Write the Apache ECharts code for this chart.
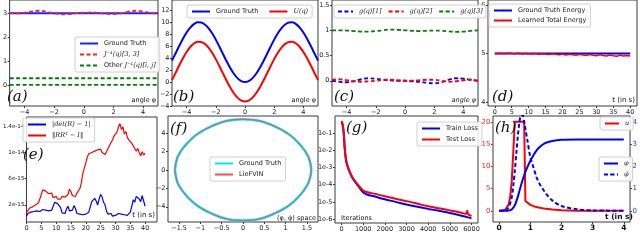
<!DOCTYPE html>
<html><head><meta charset="utf-8">
<script src="https://cdn.jsdelivr.net/npm/echarts@6/dist/echarts.min.js"></script>
<style>html,body{margin:0;padding:0;background:#fff}#c{width:640px;height:249px}</style>
</head><body><div id="c"></div>
<script>
// ---------- (a) inverse inertia ----------
const aPhi = [-5,-4.5,-4,-3.5,-3,-2.5,-2,-1.5,-1,-0.5,0,0.5,1,1.5,2,2.5,3,3.5,4,4.5,5];
const aGT  = [3,3,3,3,3,3,3,3,3,3,3,3,3,3,3,3,3,3,3,3,3];
const aJ33 = [3.0,2.99,3.02,3.07,3.1,3.06,2.99,2.95,2.96,3.0,3.02,3.03,3.01,2.97,2.96,2.99,3.06,3.1,3.07,3.01,2.98];
const aOtherHigh = [0.28,0.28,0.28,0.28,0.28,0.28,0.28,0.28,0.28,0.28,0.28,0.28,0.28,0.28,0.28,0.28,0.28,0.28,0.28,0.28,0.28];
const aOtherZero = [0,0,0,0,0,0,0,0,0,0,0,0,0,0,0,0,0,0,0,0,0];
const aXTicks = [-4,-2,0,2,4];
const aYTicks = [0,1,2,3];
// ---------- (b) potential ----------
const bPhi = [-5,-4.75,-4.5,-4.25,-4,-3.75,-3.5,-3.25,-3,-2.75,-2.5,-2.25,-2,-1.75,-1.5,-1.25,-1,-0.75,-0.5,-0.25,0,0.25,0.5,0.75,1,1.25,1.5,1.75,2,2.25,2.5,2.75,3,3.25,3.5,3.75,4,4.25,4.5,4.75,5];
const bGT = [3.58,4.81,6.05,7.23,8.27,9.10,9.68,9.97,9.95,9.62,9.01,8.14,7.08,5.89,4.65,3.42,2.30,1.34,0.61,0.16,0,0.16,0.61,1.34,2.30,3.42,4.65,5.89,7.08,8.14,9.01,9.62,9.95,9.97,9.68,9.10,8.27,7.23,6.05,4.81,3.58];
const bU  = [0.33,1.56,2.80,3.98,5.02,5.85,6.43,6.72,6.70,6.37,5.76,4.89,3.83,2.64,1.40,0.17,-0.95,-1.91,-2.64,-3.10,-3.25,-3.10,-2.64,-1.91,-0.95,0.17,1.40,2.64,3.83,4.89,5.76,6.37,6.70,6.72,6.43,5.85,5.02,3.98,2.80,1.56,0.33];
const bYTicks = [-4,-2,0,2,4,6,8,10,12];
// ---------- (c) input matrix ----------
const cPhi = [-5,-4.5,-4,-3.5,-3,-2.5,-2,-1.5,-1,-0.5,0,0.5,1,1.5,2,2.5,3,3.5,4,4.5,5];
const cG1 = [0.0,-0.02,-0.03,-0.01,0.03,0.05,0.04,0.02,0.01,0.0,0.0,-0.01,-0.02,-0.04,-0.05,-0.03,0.02,0.05,0.04,0.02,0.0];
const cG2 = [0.02,0.03,0.01,-0.01,-0.02,-0.01,0.0,0.02,0.02,0.01,0.0,0.0,0.01,0.02,0.02,0.0,-0.02,-0.01,0.01,0.02,-0.01];
const cG3 = [1.0,1.0,0.995,0.985,0.975,0.975,0.985,1.0,1.015,1.01,1.0,0.99,0.985,0.99,0.995,0.99,0.98,0.97,0.975,0.99,1.0];
const cYTicks = [0,0.5,1,1.5];
// ---------- (d) energy ----------
const dT = [0,1,2,3,4,5,6,7,8,9,10,11,12,13,14,15,16,17,18,19,20,21,22,23,24,25,26,27,28,29,30,31,32,33,34,35,36,37,38,39,40];
const dGT = [5,5,5,5,5,5,5,5,5,5,5,5,5,5,5,5,5,5,5,5,5,5,5,5,5,5,5,5,5,5,5,5,5,5,5,5,5,5,5,5,5];
const dLearned = [5.0,5.0,5.005,4.995,5.01,5.0,4.995,5.005,4.99,5.0,4.995,4.99,5.0,4.985,4.995,4.99,4.98,4.995,4.985,4.975,4.99,4.97,4.985,4.975,4.965,4.985,4.97,4.96,4.98,4.965,4.955,4.975,4.96,4.95,4.97,4.955,4.945,4.965,4.95,4.96,4.95];
const dXTicks = [0,5,10,15,20,25,30,35,40];
const dYTicks = [4,5,6];
// ---------- (e) SO(3) constraint errors (units of 1e-15) ----------
const eT = [0,0.5,1,1.5,2,2.5,3,3.5,4,4.5,5,5.5,6,6.5,7,7.5,8,8.5,9,9.5,10,10.5,11,11.5,12,12.5,13,13.5,14,14.5,15,15.5,16,16.5,17,17.5,18,18.5,19,19.5,20,20.5,21,21.5,22,22.5,23,23.5,24,24.5,25,25.5,26,26.5,27,27.5,28,28.5,29,29.5,30,30.5,31,31.5,32,32.5,33,33.5,34,34.5,35,35.5,36,36.5,37,37.5,38,38.5,39,39.5,40];
const eDet = [0.3,0.7,0.5,0.9,0.6,1.0,0.7,1.1,0.8,1.0,0.7,1.3,1.6,1.2,0.9,1.1,0.8,1.2,1.8,2.4,2.7,2.2,2.5,1.6,0.8,1.0,0.7,1.4,1.8,1.1,0.8,1.2,1.9,1.5,0.7,0.4,0.6,0.3,0.5,0.3,0.6,0.4,0.9,1.7,2.5,2.2,3.0,2.6,2.0,2.9,3.6,3.2,2.4,2.0,1.0,0.6,0.4,0.7,0.3,0.6,0.4,0.3,0.7,0.4,0.6,0.3,0.5,0.8,0.4,0.7,0.9,1.8,2.8,2.4,3.3,3.6,2.9,2.5,3.4,2.6,1.8];
const eOrth = [0.8,1.1,1.5,1.2,1.7,1.5,2.0,1.8,2.3,2.9,3.6,4.3,4.6,4.1,4.3,3.7,3.5,3.8,3.1,3.0,3.3,2.9,3.2,2.9,3.3,3.0,3.2,3.0,3.6,4.4,4.0,3.4,3.6,3.3,3.8,3.6,4.5,5.4,6.8,7.6,8.4,9.3,9.8,9.5,10.0,9.7,10.2,9.9,10.4,10.1,10.5,10.0,10.3,9.7,10.1,10.6,10.9,11.5,11.9,12.5,12.3,13.1,13.9,14.4,13.5,13.9,12.8,13.2,12.3,11.9,12.2,11.4,11.0,10.6,10.2,10.6,10.0,9.5,10.1,9.6,9.9];
const eXTicks = [0,5,10,15,20,25,30,35,40];
const eYTicks = [2,6,10,14];
const eYLabels = ['2e-15','6e-15','1e-14','1.4e-14'];
// ---------- (f) phase portrait ----------
const fPhi    = [-1.6,-1.55,-1.5,-1.4,-1.2,-1.0,-0.8,-0.6,-0.4,-0.2,0,0.2,0.4,0.6,0.8,1.0,1.2,1.4,1.5,1.55,1.6,1.55,1.5,1.4,1.2,1.0,0.8,0.6,0.4,0.2,0,-0.2,-0.4,-0.6,-0.8,-1.0,-1.2,-1.4,-1.5,-1.55,-1.6];
const fPhiDot = [0,1.2,1.7,2.4,3.4,4.1,4.6,5.0,5.3,5.45,5.5,5.45,5.3,5.0,4.6,4.1,3.4,2.4,1.7,1.2,0,-1.2,-1.7,-2.4,-3.4,-4.1,-4.6,-5.0,-5.3,-5.45,-5.5,-5.45,-5.3,-5.0,-4.6,-4.1,-3.4,-2.4,-1.7,-1.2,0];
const fXTicks = [-1.5,-1,-0.5,0,0.5,1,1.5];
const fYTicks = [-4,-2,0,2,4];
// ---------- (g) losses ----------
const gIter  = [0,50,100,150,200,250,400,550,800,1000,1200,1500,2000,2500,3000,3500,4000,4500,5000,5500,6000];
const gTrain = [0.45,0.3,0.1,0.012,3e-3,1.5e-3,4.5e-4,2e-4,7.5e-5,3.6e-5,2.6e-5,2.1e-5,1.4e-5,1e-5,7e-6,5.2e-6,3.9e-6,3e-6,2.25e-6,1.6e-6,1.1e-6];
const gTestIter = [0,50,100,150,200,250,400,550,800,1000,1200,1500,2000,2500,3000,3500,4000,4500,5000,5500,5750,5800,5850,6000];
const gTest  = [0.5,0.35,0.12,0.014,3.5e-3,1.7e-3,5e-4,2.2e-4,8.5e-5,4.6e-5,3.6e-5,3e-5,2.1e-5,1.5e-5,1.1e-5,7.8e-6,5.5e-6,4.2e-6,3.2e-6,2.4e-6,2.0e-6,3.0e-6,1.9e-6,1.5e-6];
const gXTicks = [0,1000,2000,3000,4000,5000,6000];
const gYTicks = [1e-6,1e-5,1e-4,1e-3,1e-2,1e-1];
// ---------- (h) swing-up control ----------
const hTu = [0,0.1,0.2,0.25,0.3,0.35,0.4,0.45,0.5,0.8,0.84,0.9,1.0,1.1,1.2,1.3,1.5,1.7,2.0,2.5,3.0,4.0];
const hU  = [0,0.05,0.3,0.7,1.4,3.0,6.5,13,20,20,2.2,1.8,1.35,1.05,0.85,0.7,0.45,0.3,0.15,0.05,0.02,0];
const hTphi = [0,0.2,0.3,0.4,0.5,0.6,0.7,0.8,0.9,1.0,1.1,1.2,1.3,1.4,1.5,1.7,2.0,2.5,3.0,4.0];
const hPhi  = [0,0,0.01,0.06,0.25,0.65,1.15,1.6,1.95,2.25,2.5,2.72,2.87,2.98,3.06,3.14,3.19,3.2,3.2,3.2];
const hTdot = [0,0.2,0.3,0.4,0.45,0.5,0.55,0.6,0.65,0.7,0.75,0.8,0.85,0.9,1.0,1.1,1.2,1.3,1.4,1.5,1.7,2.0,2.5,3.0,3.5,4.0];
const hPhiDot = [0,0.02,0.15,0.6,1.1,1.8,2.6,3.4,4.0,4.3,4.3,4.0,3.6,3.2,2.4,1.95,1.5,1.2,0.98,0.78,0.47,0.22,0.07,0.02,0.01,0];
const hXTicks = [0,1,2,3,4];
const hYLeftTicks = [0,5,10,15,20];
const hYRightTicks = [0,1,2,3,4];

// ---------- build ----------
const FONT = 'DejaVu Sans';
const pairs = (xs, ys) => xs.map((x, i) => [x, ys[i]]);
const num = v => String(+v.toFixed(6)).replace('-', '\u2212');
const FRAME = '#3a3a3a';
function grid(l, t, w, h) { return {left: l, top: t, width: w, height: h, show: true, borderColor: FRAME, borderWidth: 1, backgroundColor: 'transparent'}; }
function axis(g, min, max, ticks, o) {
  o = o || {};
  return {
    type: o.type || 'value', gridIndex: g, min: min, max: max, position: o.position,
    axisLine: {show: false, onZero: false}, splitLine: {show: false},
    axisTick: {show: true, length: 2, customValues: ticks, lineStyle: {color: o.tickColor || FRAME}},
    axisLabel: {customValues: ticks, fontSize: o.fontSize || 6.5, fontFamily: FONT, color: o.color || '#222',
      fontWeight: o.weight || 'normal', margin: o.margin || 2.5, formatter: o.formatter || num,
      showMinLabel: true, showMaxLabel: true}
  };
}
function line(name, g, yIdx, data, color, width, dash, extra) {
  return Object.assign({type: 'line', name: name, xAxisIndex: g, yAxisIndex: yIdx, data: data,
    symbol: 'none', showSymbol: false, smooth: false, animation: false,
    lineStyle: {color: color, width: width, type: dash ? [4, 2.5] : 'solid'}, itemStyle: {color: color}}, extra || {});
}
const LABELS = {
  a_gt: 'Ground Truth', a_j: '{m|J⁻¹(q)[3, 3]}', a_o: 'Other {m|J⁻¹(q)[i, j]}',
  b_gt: 'Ground Truth', b_u: '{m|U(q)}',
  c_1: '{m|g(q)[1]}', c_2: '{m|g(q)[2]}', c_3: '{m|g(q)[3]}',
  d_gt: 'Ground Truth Energy', d_l: 'Learned Total Energy',
  e_d: '{m||det(R) − 1|}', e_o: '{m|‖RRᵀ − I‖}',
  f_gt: 'Ground Truth', f_l: 'LieFVIN',
  g_tr: 'Train Loss', g_te: 'Test Loss',
  h_u: '{m|u}', h_p: '{m|φ}', h_d: '{m|φ̇}'
};
function legend(data, left, top, orient, o) {
  o = o || {};
  return {data: data, left: left, top: top, orient: orient || 'vertical',
    itemWidth: o.iw || 18, itemHeight: 2, itemGap: o.gap || 4,
    padding: o.pad || [3, 4, 3, 4], backgroundColor: 'rgba(255,255,255,0.85)', borderColor: '#d0d0d0', borderWidth: 1, borderRadius: 2,
    selectedMode: false, formatter: n => LABELS[n],
    textStyle: {fontSize: o.fs || 6.5, fontFamily: FONT, color: '#222', padding: [0, 0, 0, 1],
      rich: {m: {fontFamily: 'DejaVu Serif', fontStyle: 'italic', fontSize: o.fs || 6.5, color: '#222'}}}};
}
const option = {
  animation: false,
  backgroundColor: '#fff',
  grid: [grid(6, -1, 152, 107), grid(172, -1, 146, 107), grid(332, -1, 146, 107), grid(488, -1, 149, 107),
         grid(20, 117, 137, 105), grid(168, 116, 150, 106), grid(335, 116, 143, 107), grid(493, 116, 142, 106)],
  xAxis: [
    axis(0, -5, 5, aXTicks), axis(1, -5, 5, aXTicks), axis(2, -5, 5, aXTicks), axis(3, -2, 42, dXTicks),
    axis(4, 0, 44, eXTicks), axis(5, -1.76, 1.76, fXTicks), axis(6, -300, 6300, gXTicks, {formatter: v => String(v)}),
    axis(7, -0.2, 4.2, hXTicks, {fontSize: 7.5, weight: 'bold', color: '#111'})
  ],
  yAxis: [
    axis(0, -0.88, 3.55, aYTicks), axis(1, -4, 13.7, bYTicks), axis(2, -0.5, 1.6, cYTicks), axis(3, 3.92, 6.1, dYTicks),
    axis(4, -0.6, 15.4, eYTicks, {formatter: v => eYLabels[eYTicks.indexOf(v)], fontSize: 5.6, margin: 2}),
    axis(5, -5.65, 5.85, fYTicks),
    axis(6, 5.9e-7, 0.98, gYTicks, {type: 'log', formatter: v => '1e' + Math.round(Math.log10(v))}),
    axis(7, -2.5, 21.3, hYLeftTicks, {color: '#ff2020', tickColor: '#ff2020', fontSize: 7}),
    axis(7, -0.5, 4.26, hYRightTicks, {position: 'right', color: '#2030ff', tickColor: '#2030ff', fontSize: 7})
  ],
  legend: [
    legend(['a_gt', 'a_j', 'a_o'], 75, 37, 'vertical', {gap: 4}),
    legend(['b_gt', 'b_u'], 187, 5, 'horizontal', {gap: 10}),
    legend(['c_1', 'c_2', 'c_3'], 334, 5, 'horizontal', {gap: 6, iw: 15, pad: [3, 3, 3, 3]}),
    legend(['d_gt', 'd_l'], 489, 4, 'vertical', {gap: 3}),
    legend(['e_d', 'e_o'], 23, 118, 'vertical', {gap: 4}),
    legend(['f_gt', 'f_l'], 210, 157, 'vertical', {gap: 4}),
    legend(['g_tr', 'g_te'], 417, 122, 'vertical', {gap: 4}),
    legend(['h_u'], 600, 117, 'vertical', {iw: 14}),
    legend(['h_p', 'h_d'], 599, 157, 'vertical', {iw: 14, gap: 4})
  ],
  series: [
    line('a_o', 0, 0, pairs(aPhi, aOtherHigh), '#008000', 1.8, true),
    line('a_o', 0, 0, pairs(aPhi, aOtherZero), '#008000', 1.8, true),
    line('a_gt', 0, 0, pairs(aPhi, aGT), '#2020ff', 2),
    line('a_j', 0, 0, pairs(aPhi, aJ33), '#ff2020', 1.8, true, {smooth: 0.4}),
    line('b_gt', 1, 1, pairs(bPhi, bGT), '#0000ff', 2, false, {smooth: 0.3}),
    line('b_u', 1, 1, pairs(bPhi, bU), '#ff0000', 2, false, {smooth: 0.3}),
    line('c_1', 2, 2, pairs(cPhi, cG1), '#0000ff', 1.8, true, {smooth: 0.4}),
    line('c_2', 2, 2, pairs(cPhi, cG2), '#ff0000', 1.8, true, {smooth: 0.4}),
    line('c_3', 2, 2, pairs(cPhi, cG3), '#008000', 1.8, true, {smooth: 0.4}),
    line('d_gt', 3, 3, pairs(dT, dGT), '#0000ff', 1.8),
    line('d_l', 3, 3, pairs(dT, dLearned), '#ff0000', 1.5),
    line('e_d', 4, 4, pairs(eT, eDet), '#0000ff', 1.2),
    line('e_o', 4, 4, pairs(eT, eOrth), '#ff0000', 1.2),
    line('f_gt', 5, 5, pairs(fPhi, fPhiDot), '#00e8ff', 2.6, false, {smooth: 0.5}),
    line('f_l', 5, 5, pairs(fPhi, fPhiDot), '#ff4a4a', 1, false, {smooth: 0.5}),
    line('g_tr', 6, 6, pairs(gIter, gTrain), '#0000ff', 2, false, {smooth: 0.3}),
    line('g_te', 6, 6, pairs(gTestIter, gTest), '#ff0000', 2, false, {smooth: 0.3}),
    line('h_u', 7, 7, pairs(hTu, hU), '#ff0000', 2),
    line('h_p', 7, 8, pairs(hTphi, hPhi), '#0000ff', 2, false, {smooth: 0.3}),
    line('h_d', 7, 8, pairs(hTdot, hPhiDot), '#0000ff', 2, true, {smooth: 0.3})
  ],
  graphic: []
};
function txt(s, x, y, font, align, color) {
  return {type: 'text', x: x, y: y, silent: true, z: 100,
    style: {text: s, font: font, fill: color || '#111', align: align || 'left', verticalAlign: 'middle'}};
}
const PL = 'italic 15px "DejaVu Serif"';
const AX = '6.5px "DejaVu Sans"';
option.graphic = [
  txt('(a)', 7, 97, PL), txt('(b)', 173, 97, PL), txt('(c)', 334, 97, PL), txt('(d)', 492, 97, PL),
  txt('(e)', 23, 155, PL), txt('(f)', 170, 129, PL), txt('(g)', 346, 128, PL), txt('(h)', 495, 128, PL),
  txt('angle φ', 156, 100, AX, 'right'), txt('angle φ', 316, 100, AX, 'right'), txt('angle φ', 476, 100, 'italic ' + AX, 'right'),
  txt('t (in s)', 635, 100, '7px "DejaVu Sans"', 'right'),
  txt('t (in s)', 155, 215, '7px "DejaVu Sans"', 'right'),
  txt('(φ, φ̇) space', 316, 218, AX, 'right'),
  txt('Iterations', 341, 218, AX, 'left'),
  txt('t (in s)', 633, 217, 'bold 7.5px "DejaVu Sans"', 'right')
];
const chart = echarts.init(document.getElementById('c'), null, {renderer: 'canvas'});
chart.setOption(option);
</script>
</body></html>
